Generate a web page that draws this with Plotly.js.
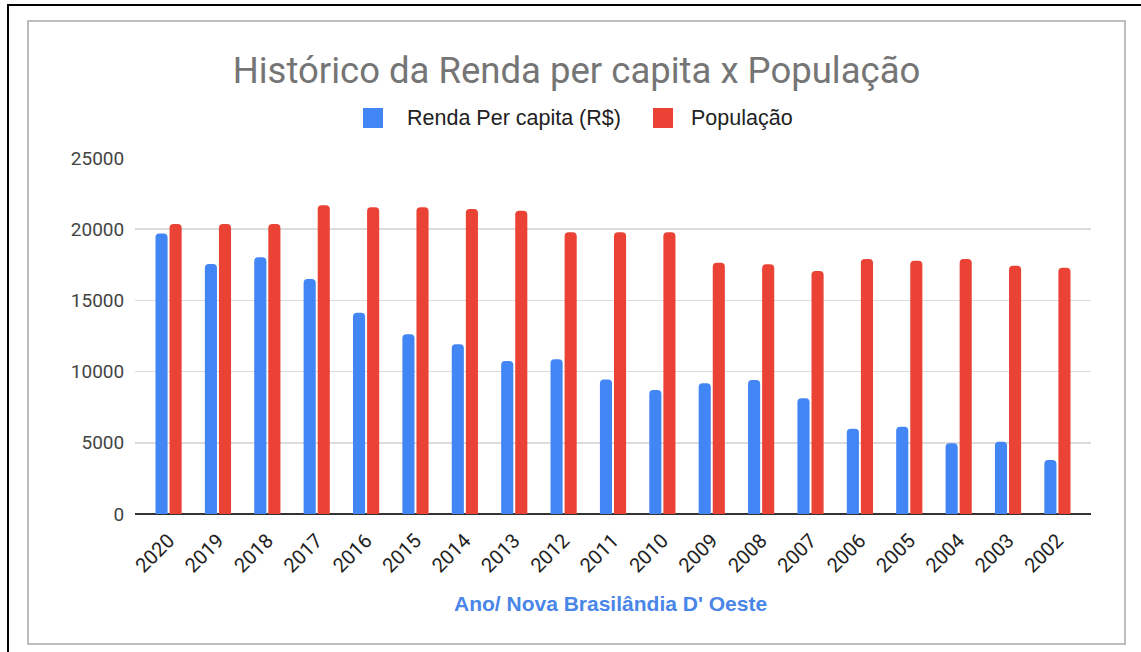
<!DOCTYPE html>
<html>
<head>
<meta charset="utf-8">
<script src="https://cdn.plot.ly/plotly-3.0.1.min.js"></script>
<style>
  html, body { margin: 0; padding: 0; background: #fff; }
  #wrap { position: relative; width: 1141px; height: 652px; overflow: hidden; background: #fff; }
  #outer { position: absolute; left: 7px; top: 4px; width: 1150px; height: 660px; border: 2px solid #000; box-sizing: border-box; }
  #inner { position: absolute; left: 27px; top: 20px; width: 1099px; height: 625px; border: 2px solid #bdbdbd; box-sizing: border-box; }
  #chart { position: absolute; left: 0; top: 0; width: 1141px; height: 652px; }
</style>
</head>
<body>
<div id="wrap">
  <div id="outer"></div>
  <div id="inner"></div>
  <div id="chart"></div>
</div>
<script>
const years = ["2020","2019","2018","2017","2016","2015","2014","2013","2012","2011","2010","2009","2008","2007","2006","2005","2004","2003","2002"];
const rendaPerCapita = [19700, 17550, 18030, 16500, 14140, 12620, 11920, 10740, 10860, 9440, 8710, 9180, 9410, 8120, 5990, 6130, 4960, 5080, 3790];
const populacao = [20370, 20370, 20370, 21680, 21540, 21540, 21420, 21300, 19780, 19780, 19780, 17650, 17530, 17070, 17910, 17790, 17910, 17440, 17300];
const seriesNames = ["Renda Per capita (R$)", "População"];
const seriesColors = ["#4285F4", "#EA4335"];
const yTicks = [0, 5000, 10000, 15000, 20000, 25000];

const FONT = 'Roboto, Arial, sans-serif';
const ARIAL = 'Arial, "Liberation Sans", sans-serif';

const traces = [
  { type: 'bar', name: seriesNames[0], x: years, y: rendaPerCapita, showlegend: false,
    marker: { color: seriesColors[0], cornerradius: 4 } },
  { type: 'bar', name: seriesNames[1], x: years, y: populacao, showlegend: false,
    marker: { color: seriesColors[1], cornerradius: 4 } }
];

// pixel -> paper helpers for the plot area (x: 135..1091, y: 158..514)
const px = v => (v - 135) / 956;
const py = v => (514 - v) / 356;

const legendItems = [
  { sq: 363, tx: 405 },
  { sq: 653, tx: 689 }
];
const shapes = legendItems.map((it, i) => ({
  type: 'rect', xref: 'paper', yref: 'paper',
  x0: px(it.sq), x1: px(it.sq + 20), y0: py(128), y1: py(108),
  fillcolor: seriesColors[i], line: { width: 0 }
}));
const annotations = legendItems.map((it, i) => ({
  xref: 'paper', yref: 'paper', x: px(it.tx), y: py(118),
  xanchor: 'left', yanchor: 'middle', showarrow: false,
  text: seriesNames[i], font: { family: ARIAL, size: 21.5, color: '#222' }
}));
annotations.push({
  xref: 'paper', yref: 'paper', x: px(610), y: py(603),
  xanchor: 'center', yanchor: 'middle', showarrow: false,
  text: '<b>Ano/ Nova Brasilândia D\' Oeste</b>',
  font: { family: ARIAL, size: 21, color: '#4A86E8' }
});

const layout = {
  width: 1141, height: 652,
  margin: { l: 135, r: 50, t: 158, b: 138, pad: 0 },
  paper_bgcolor: 'rgba(0,0,0,0)',
  plot_bgcolor: 'rgba(0,0,0,0)',
  font: { family: FONT, color: '#444' },
  title: { text: 'Histórico da Renda per capita x População', x: 576.5 / 1141, xanchor: 'center',
           y: 1 - 70 / 652, yanchor: 'middle', yref: 'container',
           font: { size: 36.5, color: '#757575', family: FONT } },
  barmode: 'group',
  bargap: 0.43,
  bargroupgap: 0.14,
  showlegend: false,
  shapes: shapes,
  annotations: annotations,
  xaxis: {
    type: 'category',
    range: [-0.68, 18.68],
    tickangle: -45,
    tickfont: { size: 20, color: '#222', family: FONT },
    ticks: 'outside', ticklen: 6, tickcolor: 'rgba(0,0,0,0)',
    showgrid: false, showline: false, zeroline: false,
    automargin: false
  },
  yaxis: {
    range: [0, 25000],
    tickvals: yTicks,
    ticktext: yTicks.map(String),
    tickfont: { size: 19, color: '#444', family: FONT },
    showgrid: true, gridcolor: '#dcdcdc', gridwidth: 1.5,
    zeroline: true, zerolinecolor: '#333', zerolinewidth: 2,
    ticks: 'outside', ticklen: 6, tickcolor: 'rgba(0,0,0,0)',
    showline: false,
    automargin: false
  }
};

Plotly.newPlot('chart', traces, layout, { displayModeBar: false, staticPlot: true });
</script>
</body>
</html>
